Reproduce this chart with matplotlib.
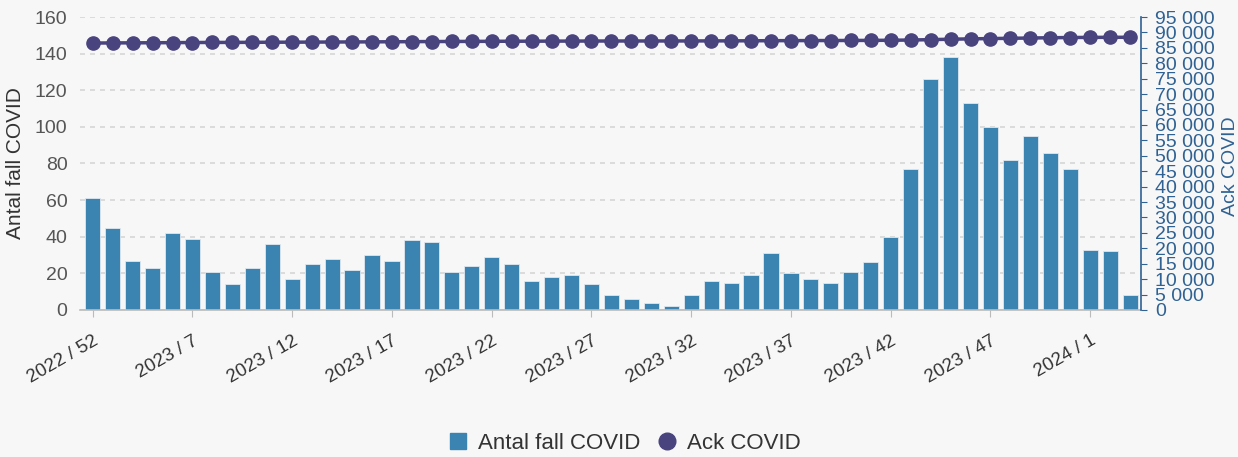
import matplotlib.pyplot as plt
import matplotlib.ticker as mticker
from matplotlib.lines import Line2D
import numpy as np

plt.rcParams["font.family"] = ["Liberation Sans", "DejaVu Sans"]

# week labels (only every 5th is shown as a tick label)
weeks = (["2022 / 52"]
         + [f"2023 / {w}" for w in range(3, 52)]
         + ["2024 / 1", "2024 / 2", "2024 / 3"])

cases = [61, 45, 27, 23, 42, 39, 21, 14, 23, 36,
         17, 25, 28, 22, 30, 27, 38, 37, 21, 24,
         29, 25, 16, 18, 19, 14, 8, 6, 4, 2,
         8, 16, 15, 19, 31, 20, 17, 15, 21, 26,
         40, 77, 126, 138, 113, 100, 82, 95, 86, 77,
         33, 32, 8]

cumulative = [86550, 86595, 86622, 86645, 86687, 86726, 86747, 86761, 86784, 86820,
              86837, 86862, 86890, 86912, 86942, 86969, 87007, 87044, 87065, 87089,
              87118, 87143, 87159, 87177, 87196, 87210, 87218, 87224, 87228, 87229,
              87237, 87253, 87268, 87287, 87318, 87338, 87355, 87370, 87391, 87417,
              87457, 87534, 87660, 87798, 87911, 88011, 88093, 88188, 88274, 88351,
              88384, 88416, 88424]

BG = "#f7f7f7"
BAR = "#3b83b0"
LINE = "#49437e"
AXBLUE = "#2f6293"
GREY = "#555555"

fig = plt.figure(figsize=(12.38, 4.57), dpi=100, facecolor=BG)
ax = fig.add_axes([0.0646, 0.3217, 0.8571, 0.6411])
ax.set_facecolor(BG)

x = np.arange(len(weeks))
ax.bar(x, cases, width=0.76, color=BAR, edgecolor="#dfe8ef",
       linewidth=0.6, zorder=2)
ax.set_xlim(-0.64, len(weeks) - 0.45)
ax.set_ylim(0, 160)
ax.set_yticks(range(0, 161, 20))
ax.grid(axis="y", color="#d6d6d6", linestyle=(0, (3, 3)), linewidth=1.2, zorder=0)
ax.set_ylabel("Antal fall COVID", fontsize=15, color="#333333")
ax.yaxis.set_label_coords(-0.052, 0.5)
ax.tick_params(axis="y", length=0, labelsize=14, labelcolor=GREY, pad=9)

ax.set_xticks(x[::5])
ax.set_xticklabels(weeks[::5], rotation=30, ha="right", rotation_mode="anchor",
                   fontsize=13.5, color="#333333")
ax.tick_params(axis="x", length=5, color="#bbbbbb", pad=11)

for s in ("left", "top", "right"):
    ax.spines[s].set_visible(False)
ax.spines["bottom"].set_color("#bbbbbb")
ax.spines["bottom"].set_linewidth(1.2)

ax2 = ax.twinx()
ax2.plot(x, cumulative, color=LINE, linewidth=2.5, marker="o",
         markersize=9.5, zorder=3)
ax2.set_ylim(0, 95000)
ax2.set_yticks(range(0, 95001, 5000))
ax2.yaxis.set_major_formatter(mticker.FuncFormatter(lambda v, p: f"{int(v):,}".replace(",", " ")))
ax2.tick_params(axis="y", length=4, color=AXBLUE, labelsize=14, labelcolor=AXBLUE, pad=6)
ax2.set_ylabel("Ack COVID", fontsize=14, color=AXBLUE)
ax2.yaxis.set_label_coords(1.0763, 0.49)
for s in ("left", "top", "bottom"):
    ax2.spines[s].set_visible(False)
ax2.spines["right"].set_color(AXBLUE)
ax2.spines["right"].set_linewidth(1.2)

handles = [Line2D([], [], linestyle="none", marker="s", markersize=11.5, color=BAR),
           Line2D([], [], linestyle="none", marker="o", markersize=12, color=LINE)]
fig.legend(handles, ["Antal fall COVID", "Ack COVID"], loc="center",
           bbox_to_anchor=(0.505, 0.03), ncol=2, frameon=False, fontsize=16,
           handlelength=0.8, handletextpad=0.5, columnspacing=0.8,
           labelcolor="#333333")

fig.savefig("out.png", dpi=100, facecolor=BG)
